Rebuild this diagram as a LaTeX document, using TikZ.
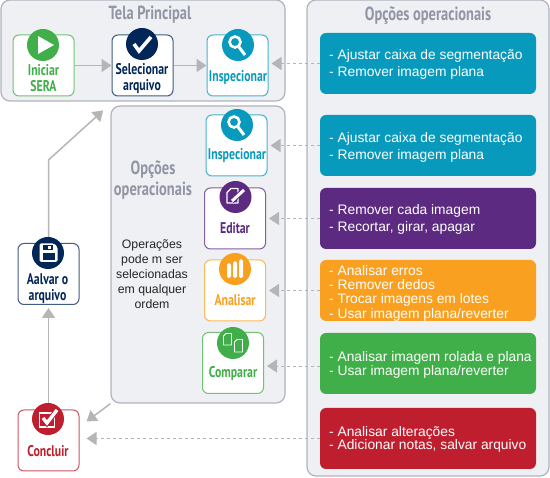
\documentclass[tikz,border=0pt]{standalone}
\usepackage{fontspec}
\usepackage{xcolor}
\usepackage{tikz}
\usetikzlibrary{arrows.meta,positioning}
\setmainfont{Liberation Sans}
\newfontfamily\headfont[FakeStretch=0.76]{PT Sans}
\definecolor{panelfill}{RGB}{239,240,243}
\definecolor{panelline}{RGB}{176,179,192}
\definecolor{headgray}{RGB}{145,149,165}
\definecolor{arrowgray}{RGB}{181,181,181}
\definecolor{sketeal}{RGB}{7,154,188}
\definecolor{skenavy}{RGB}{1,38,88}
\definecolor{skegreen}{RGB}{64,174,73}
\definecolor{skepurple}{RGB}{92,42,128}
\definecolor{skeorange}{RGB}{250,160,32}
\definecolor{skered}{RGB}{190,30,45}
\tikzset{
  panel/.style={draw=panelline, fill=panelfill, line width=1.2pt, rounded corners=9pt, inner sep=0pt},
  stepbox/.style={draw=#1!75, fill=white, line width=1pt, rounded corners=6pt, minimum width=61pt, minimum height=61pt, inner sep=0pt},
  stepdisc/.style={circle, fill=#1, minimum size=32pt, inner sep=0pt},
  steptext/.style={font=\headfont\bfseries\fontsize{15.5}{16}\selectfont, align=center, text=#1, inner sep=0pt},
  headtext/.style={font=\headfont\bfseries\fontsize{19}{21}\selectfont, align=center, text=headgray, inner sep=0pt},
  optbox/.style={fill=#1, rounded corners=6pt, minimum width=216pt, minimum height=61pt, inner sep=0pt},
  opttext/.style={font=\fontsize{13.8}{#1}\selectfont, align=left, text=white, inner sep=0pt, anchor=west},
  flow/.style={draw=arrowgray, line width=1.5pt, -{Triangle[length=10pt,width=13pt]}},
  dashflow/.style={draw=arrowgray, line width=0.9pt, dashed, -{Triangle[length=10pt,width=13pt,fill=arrowgray]}},
  icon/.style={white, line width=1.3pt}
}
\begin{document}
\begin{tikzpicture}[x=1pt, y=-1pt]
\useasboundingbox (0,0) rectangle (550,478);
% panels
\node[panel, minimum width=284pt, minimum height=101pt] (telaPanel) at (143,50.5) {};
\node[panel, minimum width=174pt, minimum height=297pt] (opPanel) at (198,254.5) {};
\node[panel, minimum width=242pt, minimum height=476pt] (optPanel) at (428,238) {};
\node[headtext] (telaHead) at (150,15) {Tela Principal};
\node[headtext] (optHead) at (428,16) {Opções operacionais};
\node[headtext] (opHead) at (153,180) {Opções\\operacionais};
\node[font=\fontsize{12.3}{15}\selectfont, align=center, text=black!85, inner sep=0pt] (opNote) at (152,274) {Operações\\pode m ser\\selecionadas\\em qualquer\\ordem};
% step boxes
\node[stepbox=skegreen] (iniciar) at (43.5,65.5) {};
\node[stepbox=skenavy] (selecionar) at (142.5,65.5) {};
\node[stepbox=sketeal] (inspA) at (237.5,65.5) {};
\node[stepbox=sketeal] (inspB) at (236.5,145.5) {};
\node[stepbox=skepurple] (editar) at (235,218.5) {};
\node[stepbox=skeorange] (analisar) at (235,290.5) {};
\node[stepbox=skegreen] (comparar) at (233,363) {};
\node[stepbox=skenavy] (aalvar) at (48.5,274) {};
\node[stepbox=skered] (concluir) at (48.5,440.5) {};
% option boxes
\node[optbox=sketeal] (optA) at (428,63.5) {};
\node[optbox=sketeal] (optB) at (428,145.5) {};
\node[optbox=skepurple] (optC) at (428,218.5) {};
\node[optbox=skeorange] (optD) at (428,290.5) {};
\node[optbox=skegreen] (optE) at (428,363.5) {};
\node[optbox=skered] (optF) at (428,438.5) {};
\node[opttext=17] (optAtext) at (329,64) {- Ajustar caixa de segmentação\\- Remover imagem plana};
\node[opttext=17] (optBtext) at (329,147) {- Ajustar caixa de segmentação\\- Remover imagem plana};
\node[opttext=17] (optCtext) at (329,219) {- Remover cada imagem\\- Recortar, girar, apagar};
\node[opttext=14.3] (optDtext) at (329,293) {- Analisar erros\\- Remover dedos\\- Trocar imagens em lotes\\- Usar imagem plana/reverter};
\node[opttext=14] (optEtext) at (329,364.5) {- Analisar imagem rolada e plana\\- Usar imagem plana/reverter};
\node[opttext=13] (optFtext) at (329,439) {- Analisar alterações\\- Adicionar notas, salvar arquivo};
% connectors
\draw[flow] (iniciar) -- (selecionar);
\draw[flow] (selecionar) -- (inspA);
\draw[flow, shorten >=3pt] (concluir) -- (aalvar);
\draw[flow, shorten >=3pt] (aalvar) -- ([yshift=83pt]aalvar.north) -- ([shift={(-5pt,-3pt)}]opPanel.north west);
\draw[flow] (opPanel.south west) -- ([shift={(7pt,-12pt)}]concluir.north east);
\draw[dashflow, shorten >=3pt] (optA.west) -- (optA.west -| inspA.east);
\draw[dashflow, shorten >=3pt] (optB.west) -- (optB.west -| inspB.east);
\draw[dashflow, shorten >=3pt] (optC.west) -- (optC.west -| editar.east);
\draw[dashflow, shorten >=3pt] (optD.west) -- (optD.west -| analisar.east);
\draw[dashflow, shorten >=3pt] ([yshift=-2.5pt]optE.west) -- ([yshift=-2.5pt]optE.west -| comparar.east);
\draw[dashflow, shorten >=7pt] (optF.west) -- (optF.west -| concluir.east);
% step discs and labels
\node[stepdisc=skegreen] (iniciarDisc) at (43,45) {};
\node[stepdisc=skenavy] (selecionarDisc) at (142,44) {};
\node[stepdisc=sketeal] (inspADisc) at (238,45) {};
\node[stepdisc=sketeal] (inspBDisc) at (237,125) {};
\node[stepdisc=skepurple] (editarDisc) at (235.5,197) {};
\node[stepdisc=skeorange] (analisarDisc) at (235,269) {};
\node[stepdisc=skegreen] (compararDisc) at (233,343) {};
\node[stepdisc=skenavy] (aalvarDisc) at (48,253) {};
\node[stepdisc=skered] (concluirDisc) at (48,419) {};
\node[steptext=skegreen] (iniciarText) at (43.5,78) {Iniciar\\SERA};
\node[steptext=skenavy] (selecionarText) at (142,78.5) {Selecionar\\arquivo};
\node[steptext=sketeal] (inspAText) at (238,78) {Inspecionar};
\node[steptext=sketeal] (inspBText) at (237,156) {Inspecionar};
\node[steptext=skepurple] (editarText) at (235,228) {Editar};
\node[steptext=skeorange] (analisarText) at (235,300) {Analisar};
\node[steptext=skegreen] (compararText) at (233,374) {Comparar};
\node[steptext=skenavy] (aalvarText) at (47.5,288.5) {Aalvar o\\arquivo};
\node[steptext=skered] (concluirText) at (48,451) {Concluir};
% icons
\fill[white] (38,36) -- (38,54) -- (54,45) -- cycle;
\draw[white, line width=3.6pt] (134,44) -- (139,51) -- (151,37);
\draw[icon, line width=2.6pt] (235,42) circle (5.5pt);
\draw[white, line width=3pt] (239,47) -- (245,55);
\draw[icon, line width=2.6pt] (234,122) circle (5.5pt);
\draw[white, line width=3pt] (238,127) -- (244,135);
% editar
\draw[icon, fill=skepurple, line join=round] (231,188.5) -- (238,188.5) -- (238,203) -- (227,203) -- (227,192.5) -- cycle;
\draw[skepurple, line width=5pt] (232,201) -- (244,190);
\draw[white, line width=3pt] (232,201) -- (244,190);
% analisar
\fill[white, rounded corners=1.5pt] (227,278) -- (227,263.5) -- (231,263.5) -- (231,278) -- cycle;
\fill[white, rounded corners=1.5pt] (233,278) -- (233,261.5) -- (237,261.5) -- (237,278) -- cycle;
\fill[white, rounded corners=1.5pt] (239,278) -- (239,259.5) -- (243,259.5) -- (243,278) -- cycle;
% comparar
\draw[white, line width=0.9pt, line join=round] (223.5,336) -- (226,333.5) -- (231.5,333.5) -- (231.5,345) -- (223.5,345) -- cycle;
\draw[white, line width=0.9pt, line join=round] (234.5,342) -- (237,339.5) -- (242.5,339.5) -- (242.5,352) -- (234.5,352) -- cycle;
% aalvar
\fill[white, rounded corners=1.5pt] (39.5,243.5) -- (54,243.5) -- (57.5,247) -- (57.5,262) -- (39.5,262) -- cycle;
\fill[skenavy] (43,245) rectangle (53,250);
\fill[white] (48,246) rectangle (51,249);
\fill[skenavy] (42.5,253) rectangle (54.5,260);
% concluir
\draw[white, line width=1.1pt] (39.5,413) rectangle (54.5,427);
\draw[skered, line width=5.4pt] (43,418) -- (47,423) -- (57,410);
\draw[white, line width=3.4pt] (43,418) -- (47,423) -- (57,410);
\end{tikzpicture}
\end{document}
